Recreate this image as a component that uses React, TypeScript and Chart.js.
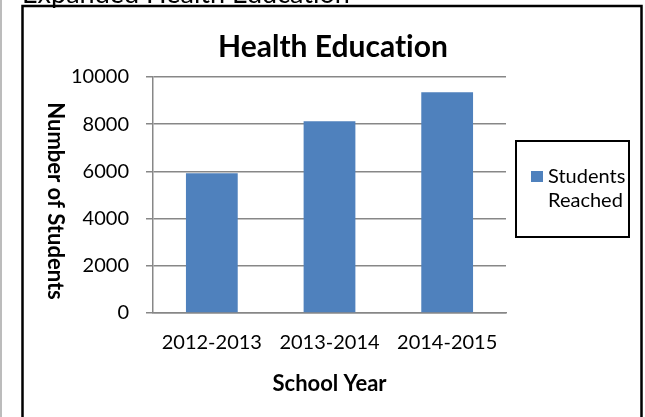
import { useEffect, useRef } from "react";
import { Chart, registerables } from "chart.js";

Chart.register(...registerables);

// ---- data ----
const categories = ["2012-2013", "2013-2014", "2014-2015"];
const studentsReached = [5920, 8130, 9350];
const seriesLabel = "Students Reached";
const yMin = 0;
const yMax = 10000;
const yStep = 2000;
const chartTitle = "Health Education";
const pageCaption = "Expanded Health Education";
const xAxisTitle = "School Year";
const yAxisTitle = "Number of Students";

const FONT = "Lato, 'Open Sans', 'DejaVu Sans', sans-serif";
const BAR_COLOR = "#4F81BD";
const GRID_COLOR = "#878787";

const decorPlugin = {
  id: "decor",
  beforeDraw(chart: any) {
    const ctx = chart.ctx as any;
    ctx.save();
    ctx.textRendering = "optimizeSpeed";
    ctx.fillStyle = "#ffffff";
    ctx.fillRect(0, 0, chart.width, chart.height);
    // page edge line
    ctx.strokeStyle = "#a6a6a6";
    ctx.lineWidth = 1.5;
    ctx.beginPath();
    ctx.moveTo(1, 0);
    ctx.lineTo(1, chart.height);
    ctx.stroke();
    // cut-off caption above the chart
    ctx.fillStyle = "#000";
    ctx.font = `27px ${FONT}`;
    ctx.textAlign = "left";
    ctx.textBaseline = "alphabetic";
    ctx.fillText(pageCaption, 22, 3);
    // chart frame
    ctx.strokeStyle = "#000";
    ctx.lineWidth = 2.5;
    ctx.strokeRect(22.5, 6, 619, chart.height + 20);
    ctx.restore();
  },
  afterDraw(chart: any) {
    const ctx = chart.ctx as any;
    ctx.save();
    ctx.textRendering = "optimizeSpeed";
    ctx.fillStyle = "#000";
    // chart title
    ctx.font = `bold 30px ${FONT}`;
    ctx.textAlign = "center";
    ctx.textBaseline = "alphabetic";
    ctx.fillText(chartTitle, 333, 57);
    // y axis title (reads top to bottom)
    ctx.save();
    ctx.translate(47.5, 201);
    ctx.rotate(Math.PI / 2);
    ctx.font = `bold 22px ${FONT}`;
    ctx.textAlign = "center";
    ctx.fillText(yAxisTitle, 0, 0);
    ctx.restore();
    // legend
    ctx.strokeStyle = "#000";
    ctx.lineWidth = 2;
    ctx.strokeRect(516, 141, 113, 96);
    const ds = chart.data.datasets[0];
    ctx.fillStyle = ds.backgroundColor;
    ctx.fillRect(531, 171, 12, 11);
    ctx.fillStyle = "#000";
    ctx.font = `20px ${FONT}`;
    ctx.textAlign = "left";
    const lines = String(ds.label).split(" ");
    lines.forEach((t: string, i: number) => ctx.fillText(t, 548, 182.5 + i * 24));
    ctx.restore();
  },
};

export default function App() {
  const ref = useRef<HTMLCanvasElement | null>(null);
  useEffect(() => {
    if (!ref.current) return;
    const chart = new Chart(ref.current, {
      type: "bar",
      data: {
        labels: categories,
        datasets: [
          {
            label: seriesLabel,
            data: studentsReached,
            backgroundColor: BAR_COLOR,
            borderWidth: 0,
            barPercentage: 0.44,
            categoryPercentage: 1,
          },
        ],
      },
      options: {
        responsive: false,
        animation: false,
        events: [],
        layout: { padding: { left: 23, top: 77, right: 139, bottom: 0 } },
        plugins: {
          legend: { display: false },
          title: { display: false },
          tooltip: { enabled: false },
        },
        scales: {
          x: {
            grid: { display: false, drawTicks: false },
            border: { display: true, color: GRID_COLOR, width: 1.5 },
            ticks: { color: "#000", font: { family: FONT, size: 20 }, padding: 18 },
            title: {
              display: true,
              text: xAxisTitle,
              color: "#000",
              font: { family: FONT, size: 22, weight: "bold" },
              padding: { top: 0, bottom: 20 },
            },
            afterFit: (s: any) => {
              s.height = 104;
            },
          },
          y: {
            min: yMin,
            max: yMax,
            ticks: {
              stepSize: yStep,
              color: "#000",
              font: { family: FONT, size: 20 },
              padding: 17,
              callback: (v: any) => String(v),
            },
            grid: { color: GRID_COLOR, lineWidth: 1.5, tickLength: 7, drawTicks: true },
            border: { display: true, color: GRID_COLOR, width: 1.5 },
            afterFit: (s: any) => {
              s.width = 130;
            },
          },
        },
      },
      plugins: [decorPlugin],
    });
    return () => chart.destroy();
  }, []);
  return (
    <div style={{ position: "fixed", left: 0, top: 0, width: 645, height: 417, background: "#fff" }}>
      <canvas ref={ref} width={645} height={417} style={{ display: "block" }} />
    </div>
  );
}
